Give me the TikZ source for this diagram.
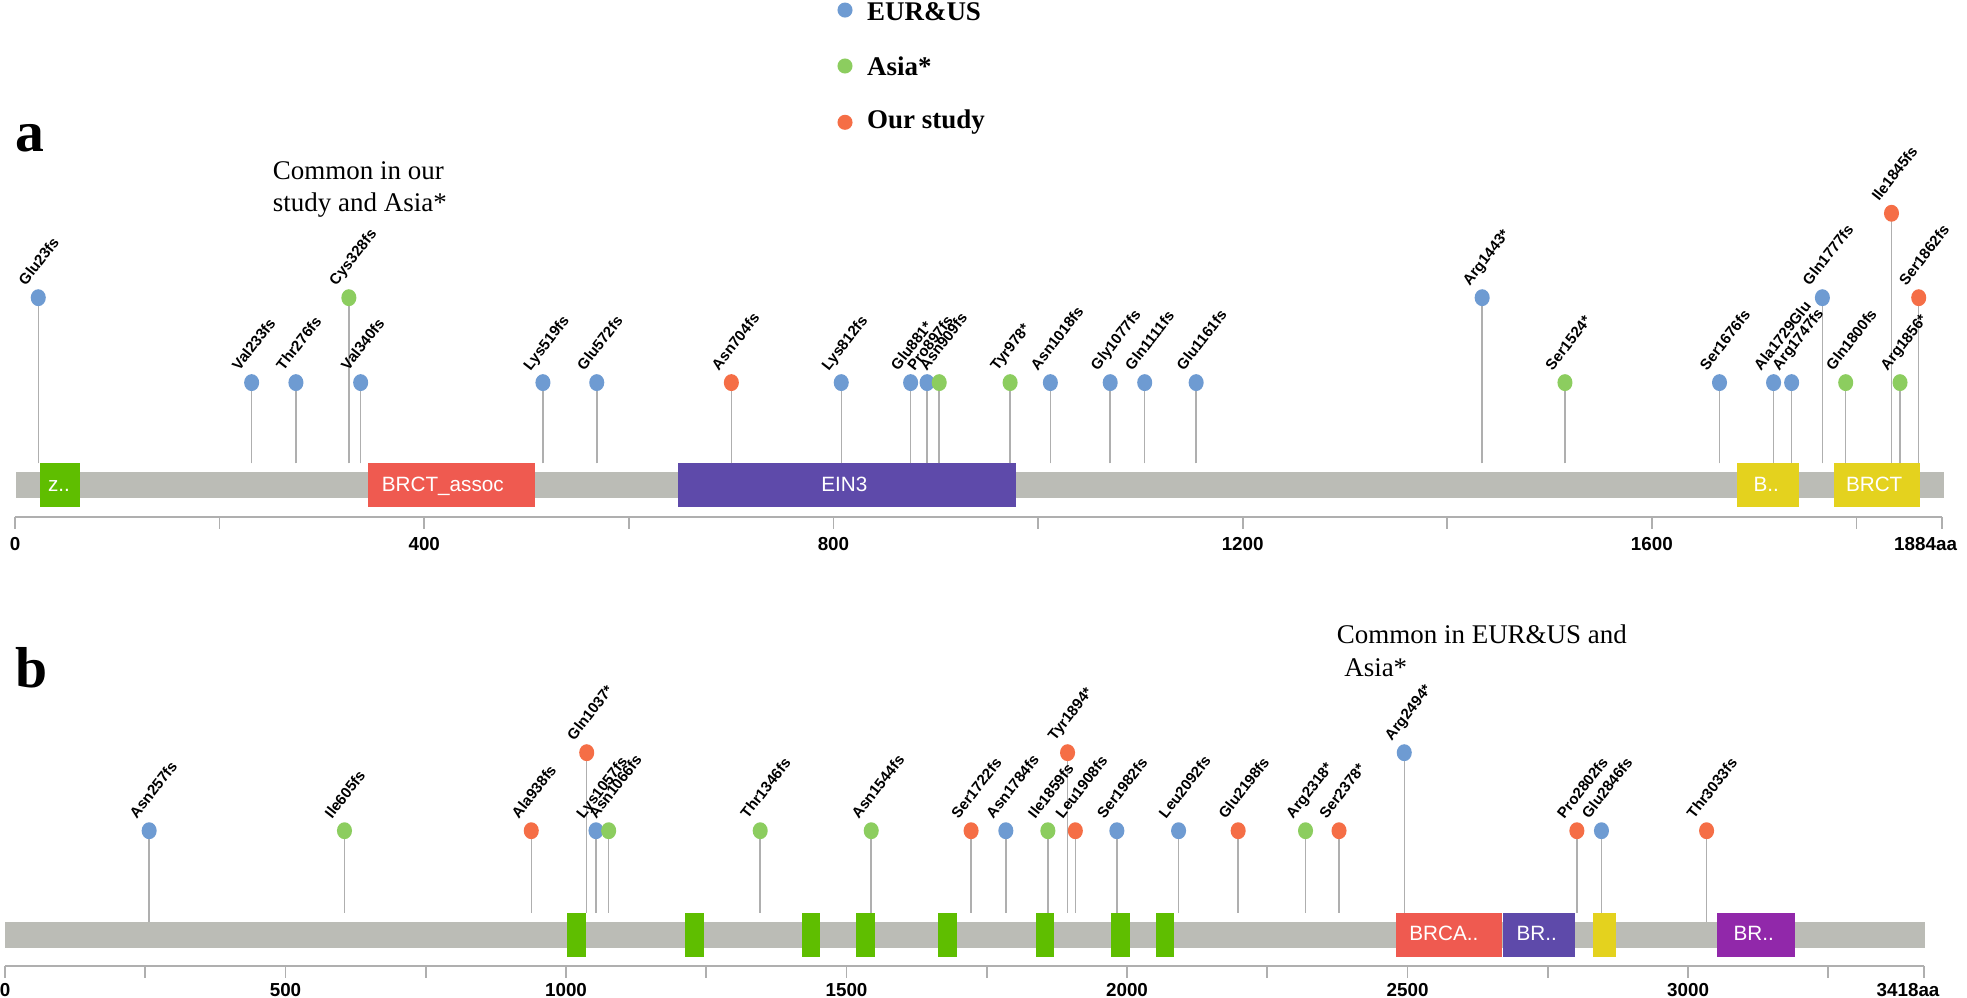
\documentclass[tikz,border=0pt]{standalone}
\usepackage{fontspec}
\setmainfont{Liberation Serif}
\newfontfamily\labfont{Liberation Sans}
\usetikzlibrary{shapes.geometric}
\definecolor{cblue}{RGB}{110,155,210}
\definecolor{cgreen}{RGB}{140,205,95}
\definecolor{corange}{RGB}{245,110,70}
\definecolor{bargray}{RGB}{187,188,182}
\definecolor{stemgray}{RGB}{175,175,175}
\definecolor{dgreen}{RGB}{95,190,0}
\definecolor{dred}{RGB}{239,90,80}
\definecolor{dpurple}{RGB}{94,74,170}
\definecolor{dyellow}{RGB}{228,210,30}
\definecolor{dviolet}{RGB}{145,40,170}
\begin{document}
\begin{tikzpicture}[x=1pt,y=-1pt,
  pinstem/.style={draw=stemgray, line width=1.2pt},
  pinhead/.style={ellipse, fill=#1, minimum width=12pt, minimum height=13.5pt, inner sep=0pt},
  mutlabel/.style={font=\labfont\bfseries\fontsize{12}{14}\selectfont, rotate=52, anchor=base west, inner sep=0pt},
  domtext/.style={font=\labfont\fontsize{16.5}{18}\selectfont, text=white, anchor=base, inner sep=0pt},
  axislabel/.style={font=\labfont\bfseries\fontsize{15}{17}\selectfont, anchor=base, inner sep=0pt},
  axisline/.style={draw=stemgray, line width=1.8pt},
  tickline/.style={draw=stemgray, line width=1.3pt},
  legdot/.style={circle, fill=#1, minimum size=12pt, inner sep=0pt},
  legtext/.style={font=\bfseries\fontsize{21.5}{24}\selectfont, anchor=base west, inner sep=0pt},
  note/.style={font=\fontsize{21.5}{25}\selectfont, anchor=base west, inner sep=0pt},
  panel/.style={font=\bfseries\fontsize{46}{50}\selectfont, anchor=base west, inner sep=0pt}]
\useasboundingbox (0,0) rectangle (1568,795);
\fill[white] (0,0) rectangle (1568,795);

% legend
\node[legdot=cblue] (lg1) at (673.6,8) {};
\node[legtext] (lt1) at (691,16.5) {EUR\&US};
\node[legdot=cgreen] (lg2) at (673.6,52.6) {};
\node[legtext] (lt2) at (691,59.8) {Asia*};
\node[legdot=corange] (lg3) at (673.6,97.5) {};
\node[legtext] (lt3) at (691,102.3) {Our study};

% panel labels and notes
\node[panel] (pa) at (12,121) {a};
\node[panel] (pb) at (12,548) {b};
\node[note] (na1) at (217.4,143) {Common in our};
\node[note] (na2) at (217.4,168.7) {study and Asia*};
\node[note] (nb1) at (1065.5,512.8) {Common in EUR\&US and};
\node[note] (nb2) at (1071.4,538.9) {Asia*};

% ===== panel a =====
\fill[bargray] (12.4,376) rectangle (1549.7,396.7);
\fill[dgreen] (31.9,369.3) rectangle (64.1,403.9);
\node[domtext] (da1) at (47,392) {z..};
\fill[dred] (293.2,369.3) rectangle (426.1,403.9);
\node[domtext] (da2) at (353,392) {BRCT\_assoc};
\fill[dpurple] (540.7,369.3) rectangle (809.8,403.9);
\node[domtext] (da3) at (673,392) {EIN3};
\fill[dyellow] (1384.5,369.3) rectangle (1434.4,403.9);
\node[domtext] (da4) at (1408,392) {B..};
\fill[dyellow] (1462,369.3) rectangle (1530.8,403.9);
\node[domtext] (da5) at (1494,392) {BRCT};

% axis a
\coordinate (axa0) at (12,412);
\coordinate (axa1) at (1548,412);
\draw[axisline] (axa0) -- (axa1);
\foreach \k in {0,...,9} {
  \coordinate (tka\k) at (12+0.8155*200*\k,412);
  \draw[tickline] (tka\k) -- ++(0,10);
}
\draw[tickline] (axa1) -- ++(0,10);
\foreach \v/\t in {0/0,400/400,800/800,1200/1200,1600/1600} {
  \node[axislabel] at (12+0.8155*\v,439) {\t};
}
\node[axislabel] (enda) at (1535,439) {1884aa};

% pins a
\foreach \x/\y/\c/\l [count=\i] in {
 30.5/237.3/cblue/Glu23fs, 200.6/305/cblue/Val233fs, 235.9/305/cblue/Thr276fs,
 278.1/237.3/cgreen/Cys328fs, 287.5/305/cblue/Val340fs, 432.8/305/cblue/Lys519fs,
 475.7/305/cblue/Glu572fs, 583/305/corange/Asn704fs, 670.6/305/cblue/Lys812fs,
 725.9/305/cblue/Glu881*, 739/305/cblue/Pro897fs, 748.7/305/cgreen/Asn909fs,
 805.2/305/cgreen/Tyr978*, 837.3/305/cblue/Asn1018fs, 885/305/cblue/Gly1077fs,
 912.5/305/cblue/Gln1111fs, 953.5/305/cblue/Glu1161fs, 1181.5/237.3/cblue/Arg1443*,
 1247.5/305/cgreen/Ser1524*, 1370.7/305/cblue/Ser1676fs, 1413.8/305/cblue/Ala1729Glu,
 1428.2/305/cblue/Arg1747fs, 1452.7/237.3/cblue/Gln1777fs, 1471.3/305/cgreen/Gln1800fs,
 1507.8/170/corange/Ile1845fs, 1514.6/305/cgreen/Arg1856*, 1529.5/237.3/corange/Ser1862fs} {
  \coordinate (ba\i) at (\x,369.3);
  \coordinate (ta\i) at (\x,\y);
  \draw[pinstem] (ba\i) -- (ta\i);
}
\foreach \x/\y/\c/\l [count=\i] in {
 30.5/237.3/cblue/Glu23fs, 200.6/305/cblue/Val233fs, 235.9/305/cblue/Thr276fs,
 278.1/237.3/cgreen/Cys328fs, 287.5/305/cblue/Val340fs, 432.8/305/cblue/Lys519fs,
 475.7/305/cblue/Glu572fs, 583/305/corange/Asn704fs, 670.6/305/cblue/Lys812fs,
 725.9/305/cblue/Glu881*, 739/305/cblue/Pro897fs, 748.7/305/cgreen/Asn909fs,
 805.2/305/cgreen/Tyr978*, 837.3/305/cblue/Asn1018fs, 885/305/cblue/Gly1077fs,
 912.5/305/cblue/Gln1111fs, 953.5/305/cblue/Glu1161fs, 1181.5/237.3/cblue/Arg1443*,
 1247.5/305/cgreen/Ser1524*, 1370.7/305/cblue/Ser1676fs, 1413.8/305/cblue/Ala1729Glu,
 1428.2/305/cblue/Arg1747fs, 1452.7/237.3/cblue/Gln1777fs, 1471.3/305/cgreen/Gln1800fs,
 1507.8/170/corange/Ile1845fs, 1514.6/305/cgreen/Arg1856*, 1529.5/237.3/corange/Ser1862fs} {
  \node[pinhead=\c] (ha\i) at (ta\i) {};
  \node[mutlabel] (la\i) at (\x-10,\y-9) {\l};
}

% ===== panel b =====
\fill[bargray] (4,734.7) rectangle (1534.3,755.4);
\foreach \a/\b [count=\j] in {452/467.3, 545.9/561.2, 639.5/654, 682.2/697.5, 748/762.6, 825.6/840.2, 886/900.4, 921.3/935.8} {
  \fill[dgreen] (\a,727.5) rectangle (\b,762.6);
}
\fill[dred] (1112.6,727.5) rectangle (1197,762.6);
\node[domtext] (db1) at (1151,750) {BRCA..};
\fill[dpurple] (1198,727.5) rectangle (1255.8,762.6);
\node[domtext] (db2) at (1225,750) {BR..};
\fill[dyellow] (1270,727.5) rectangle (1288,762.6);
\fill[dviolet] (1368.7,727.5) rectangle (1431,762.6);
\node[domtext] (db3) at (1398,750) {BR..};

% axis b
\coordinate (axb0) at (4,770);
\coordinate (axb1) at (1533.5,770);
\draw[axisline] (axb0) -- (axb1);
\foreach \k in {0,...,13} {
  \coordinate (tkb\k) at (4+0.4472*250*\k,770);
  \draw[tickline] (tkb\k) -- ++(0,10);
}
\draw[tickline] (axb1) -- ++(0,10);
\foreach \v in {0,500,1000,1500,2000,2500,3000} {
  \node[axislabel] at (4+0.4472*\v,794.5) {\v};
}
\node[axislabel] (endb) at (1521,794.5) {3418aa};

% pins b
\foreach \x/\y/\c/\l/\bt [count=\i] in {
 118.9/662.2/cblue/Asn257fs/735, 274.6/662.2/cgreen/Ile605fs/727.5, 423.5/662.2/corange/Ala938fs/727.5,
 467.7/600/corange/Gln1037*/727.5, 475.1/662.2/cblue/Lys1057fs/727.5, 485.2/662.2/cgreen/Asn1066fs/727.5,
 606/662.2/cgreen/Thr1346fs/727.5, 694.5/662.2/cgreen/Asn1544fs/727.5, 774.1/662.2/corange/Ser1722fs/727.5,
 801.8/662.2/cblue/Asn1784fs/727.5, 835.3/662.2/cgreen/Ile1859fs/727.5, 851/600/corange/Tyr1894*/727.5,
 857.2/662.2/corange/Leu1908fs/727.5, 890.3/662.2/cblue/Ser1982fs/727.5, 939.5/662.2/cblue/Leu2092fs/727.5,
 987/662.2/corange/Glu2198fs/727.5, 1040.7/662.2/cgreen/Arg2318*/727.5, 1067.4/662.2/corange/Ser2378*/727.5,
 1119.4/600/cblue/Arg2494*/727.5, 1257/662.2/corange/Pro2802fs/727.5, 1276.6/662.2/cblue/Glu2846fs/727.5,
 1360.4/662.2/corange/Thr3033fs/735} {
  \coordinate (bb\i) at (\x,\bt);
  \coordinate (tb\i) at (\x,\y);
  \draw[pinstem] (bb\i) -- (tb\i);
}
\foreach \x/\y/\c/\l [count=\i] in {
 118.9/662.2/cblue/Asn257fs, 274.6/662.2/cgreen/Ile605fs, 423.5/662.2/corange/Ala938fs,
 467.7/600/corange/Gln1037*, 475.1/662.2/cblue/Lys1057fs, 485.2/662.2/cgreen/Asn1066fs,
 606/662.2/cgreen/Thr1346fs, 694.5/662.2/cgreen/Asn1544fs, 774.1/662.2/corange/Ser1722fs,
 801.8/662.2/cblue/Asn1784fs, 835.3/662.2/cgreen/Ile1859fs, 851/600/corange/Tyr1894*,
 857.2/662.2/corange/Leu1908fs, 890.3/662.2/cblue/Ser1982fs, 939.5/662.2/cblue/Leu2092fs,
 987/662.2/corange/Glu2198fs, 1040.7/662.2/cgreen/Arg2318*, 1067.4/662.2/corange/Ser2378*,
 1119.4/600/cblue/Arg2494*, 1257/662.2/corange/Pro2802fs, 1276.6/662.2/cblue/Glu2846fs,
 1360.4/662.2/corange/Thr3033fs} {
  \node[pinhead=\c] (hb\i) at (tb\i) {};
  \node[mutlabel] (lb\i) at (\x-10,\y-9) {\l};
}
\end{tikzpicture}
\end{document}
